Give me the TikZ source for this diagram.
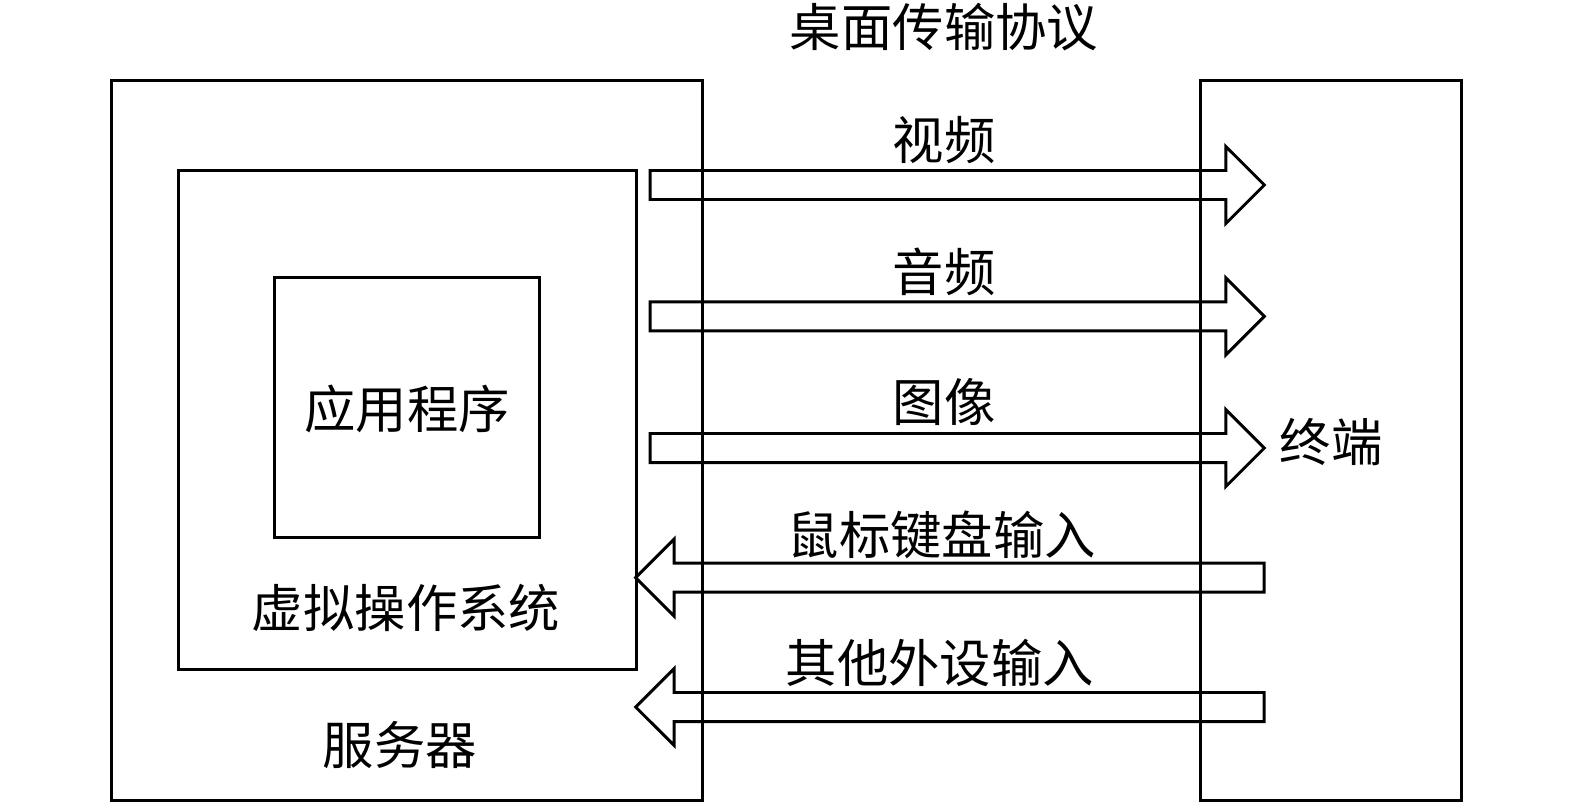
\documentclass[tikz,border=0pt]{standalone}
\usepackage{fontspec}
\newfontfamily\cjk{Noto Sans CJK SC}
\usetikzlibrary{shapes.arrows}

\tikzset{
  box/.style={draw, line width=0.85pt, inner sep=0pt, outer sep=0pt},
  lbl/.style={font=\cjk\fontsize{14.6}{17}\selectfont, inner sep=0pt,
    text height=12.6pt, text depth=1.75pt},
  blockarrow/.style={single arrow, draw, line width=0.85pt, outer sep=0pt,
    inner xsep=0pt, inner ysep=0.13cm, single arrow head extend=0.24cm,
    single arrow tip angle=90, anchor=tail}
}

\begin{document}
\begin{tikzpicture}[x=0.01cm, y=-0.01cm]
\useasboundingbox (0,0) rectangle (1575,803);

% boxes
\node [box, minimum width=5.905cm, minimum height=7.2cm] (server) at (406.75,440.5) {};
\node [box, minimum width=4.57cm, minimum height=4.98cm] (vos) at (407.5,420) {};
\node [box, minimum width=2.64cm, minimum height=2.59cm] (app) at (407,407.5) {};
\node [box, minimum width=2.6cm, minimum height=7.2cm] (term) at (1331,440.5) {};

% labels
\node [lbl] (title) at (944,27.6) {桌面传输协议};
\node [lbl] (applbl) at (407,409) {应用程序};
\node [lbl] (voslbl) at (406,608) {虚拟操作系统};
\node [lbl] (serverlbl) at (400,745) {服务器};
\node [lbl] (termlbl) at (1331,442) {终端};

% arrows
\node [blockarrow, minimum height=6.14cm] (video) at (650,185) {};
\node [blockarrow, minimum height=6.14cm] (audio) at (650,316.4) {};
\node [blockarrow, minimum height=6.14cm] (image) at (650,448) {};
\node [blockarrow, shape border rotate=180, minimum height=6.28cm] (mouse) at (1264,577.6) {};
\node [blockarrow, shape border rotate=180, minimum height=6.28cm] (other) at (1264,707) {};

\node [lbl] at (944,140) {视频};
\node [lbl] at (944,272) {音频};
\node [lbl] at (944,402) {图像};
\node [lbl] at (941.7,535) {鼠标键盘输入};
\node [lbl] at (939.7,663) {其他外设输入};
\end{tikzpicture}
\end{document}
